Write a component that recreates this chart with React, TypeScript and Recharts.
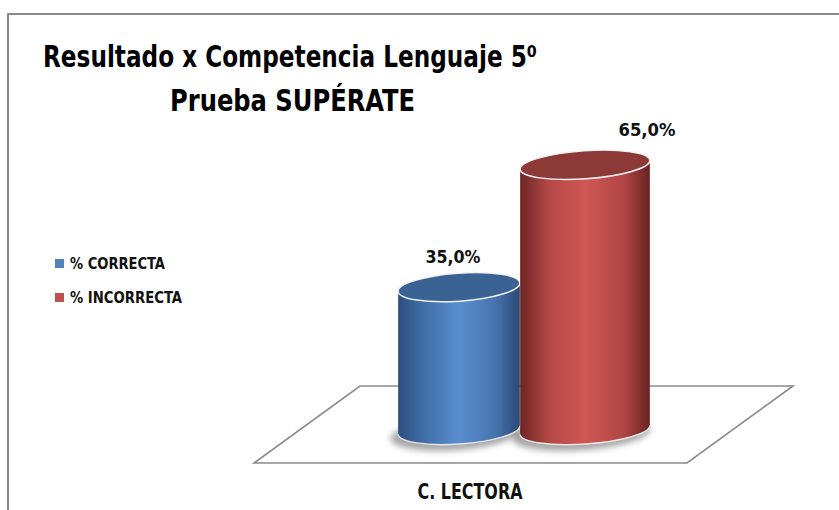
import { Bar, BarChart, LabelList, Legend, XAxis, YAxis } from "recharts";

const categories = ["C. LECTORA"];
const correcta = [35.0];
const incorrecta = [65.0];
const seriesNames = ["% CORRECTA", "% INCORRECTA"];
const seriesColors = ["#4f81bd", "#c0504d"];
const titleLines = ["Resultado x Competencia Lenguaje 5⁰", "Prueba SUPÉRATE"];

const data = categories.map((category, i) => ({
  category,
  correcta: correcta[i],
  incorrecta: incorrecta[i],
}));

const font = '"DejaVu Sans Condensed", "DejaVu Sans", sans-serif';

const shades: Record<string, string[]> = {
  blue: ["#2c4f7e", "#4170a8", "#5a8ed0", "#4673ad", "#2b4975", "#3a6293"],
  red: ["#6c2524", "#b44846", "#d05754", "#b04544", "#682322", "#8c3938"],
};

const fmt = (v: number) => v.toFixed(1).replace(".", ",") + "%";

const makeCylinder = (id: string) => (props: any) => {
  const { x, y, width, height } = props;
  const s = shades[id];
  const cx = x + width / 2;
  const rx = width / 2;
  const ry = 14;
  const tilt = -4;
  const t = (tilt * Math.PI) / 180;
  const dx = rx * Math.cos(t);
  const dy = rx * Math.sin(t);
  const by = y + height;
  const body = `M ${cx - dx} ${y - dy} L ${cx - dx} ${by - dy} A ${rx} ${ry} ${tilt} 0 0 ${cx + dx} ${by + dy} L ${cx + dx} ${y + dy} A ${rx} ${ry} ${tilt} 0 1 ${cx - dx} ${y - dy} Z`;
  const bottomEdge = `M ${cx - dx} ${by - dy} A ${rx} ${ry} ${tilt} 0 0 ${cx + dx} ${by + dy}`;
  return (
    <g>
      <defs>
        <linearGradient id={`body-${id}`} x1="0" y1="0" x2="1" y2="0">
          <stop offset="0%" stopColor={s[0]} />
          <stop offset="22%" stopColor={s[1]} />
          <stop offset="50%" stopColor={s[2]} />
          <stop offset="80%" stopColor={s[3]} />
          <stop offset="100%" stopColor={s[4]} />
        </linearGradient>
        <filter id={`blur-${id}`} x="-30%" y="-100%" width="160%" height="300%">
          <feGaussianBlur stdDeviation="3" />
        </filter>
      </defs>
      <ellipse
        cx={cx - 4}
        cy={by + 4}
        rx={rx + 4}
        ry={ry + 2}
        fill="#000"
        opacity={0.35}
        filter={`url(#blur-${id})`}
        transform={`rotate(${tilt} ${cx} ${by})`}
      />
      <path d={body} fill={`url(#body-${id})`} />
      <path d={bottomEdge} fill="none" stroke="#e6e6e6" strokeWidth={1.5} />
      <ellipse
        cx={cx}
        cy={y}
        rx={rx}
        ry={ry}
        fill={s[5]}
        stroke="#f2f2f2"
        strokeWidth={1.5}
        transform={`rotate(${tilt} ${cx} ${y})`}
      />
    </g>
  );
};

const makeLabel = (dx: number, dy: number, len: number) => (props: any) => {
  const { x, y, width, value } = props;
  return (
    <text
      x={x + width / 2 + dx}
      y={y + dy}
      textAnchor="middle"
      textLength={len}
      lengthAdjust="spacingAndGlyphs"
      fontFamily={font}
      fontWeight="bold"
      fontSize={18}
      fill="#111"
    >
      {fmt(value)}
    </text>
  );
};

const CategoryTick = (props: any) => {
  const { x, y, payload } = props;
  return (
    <text
      x={x - 54}
      y={y + 69}
      textAnchor="middle"
      textLength={105}
      lengthAdjust="spacingAndGlyphs"
      fontFamily={font}
      fontWeight="bold"
      fontSize={22}
      fill="#111"
    >
      {payload.value}
    </text>
  );
};

const LegendBox = (props: any) => {
  const items = props.payload || [];
  const lens = [95, 112];
  return (
    <svg width={170} height={60}>
      {items.map((item: any, i: number) => (
        <g key={item.value}>
          <rect x={3} y={9 + i * 34} width={9} height={9} fill={item.color} />
          <text
            x={18}
            y={19 + i * 34}
            textLength={lens[i]}
            lengthAdjust="spacingAndGlyphs"
            fontFamily={font}
            fontWeight="bold"
            fontSize={16}
            fill="#111"
          >
            {item.value}
          </text>
        </g>
      ))}
    </svg>
  );
};

export default function App() {
  return (
    <div
      style={{
        position: "fixed",
        left: 0,
        top: 0,
        width: 839,
        height: 510,
        overflow: "hidden",
        background: "#fff",
      }}
    >
      <div
        style={{
          position: "absolute",
          left: 7,
          top: 13,
          width: 900,
          height: 600,
          borderTop: "2px solid #8a8a8a",
          borderLeft: "2px solid #8a8a8a",
        }}
      />
      <svg
        width={839}
        height={510}
        style={{ position: "absolute", left: 0, top: 0 }}
      >
        <text
          x={43}
          y={67}
          textLength={494}
          lengthAdjust="spacingAndGlyphs"
          fontFamily={font}
          fontWeight="bold"
          fontSize={30}
          fill="#000"
        >
          {titleLines[0]}
        </text>
        <text
          x={170}
          y={111}
          textLength={245}
          lengthAdjust="spacingAndGlyphs"
          fontFamily={font}
          fontWeight="bold"
          fontSize={31}
          fill="#000"
        >
          {titleLines[1]}
        </text>
        <polygon
          points="360,386 793,386 687,463 254,463"
          fill="#fff"
          stroke="#8a8a8a"
          strokeWidth={1.6}
        />
      </svg>
      <div style={{ position: "absolute", left: 0, top: 0 }}>
        <BarChart
          width={839}
          height={510}
          data={data}
          margin={{ top: 22, right: 91, bottom: 50, left: 300 }}
          barGap={0}
        >
          <XAxis
            dataKey="category"
            axisLine={false}
            tickLine={false}
            tickSize={0}
            tickMargin={0}
            height={30}
            tick={<CategoryTick />}
          />
          <YAxis hide domain={[0, 100]} />
          <Legend
            layout="vertical"
            align="center"
            verticalAlign="middle"
            content={<LegendBox />}
            wrapperStyle={{ left: 52, top: 250, width: 170, height: 60 }}
          />
          <Bar
            dataKey="correcta"
            name={seriesNames[0]}
            fill={seriesColors[0]}
            barSize={122}
            shape={makeCylinder("blue")}
            isAnimationActive={false}
          >
            <LabelList dataKey="correcta" content={makeLabel(-6, -24, 55)} />
          </Bar>
          <Bar
            dataKey="incorrecta"
            name={seriesNames[1]}
            fill={seriesColors[1]}
            barSize={130}
            shape={makeCylinder("red")}
            isAnimationActive={false}
          >
            <LabelList dataKey="incorrecta" content={makeLabel(62, -29, 57)} />
          </Bar>
        </BarChart>
      </div>
    </div>
  );
}
